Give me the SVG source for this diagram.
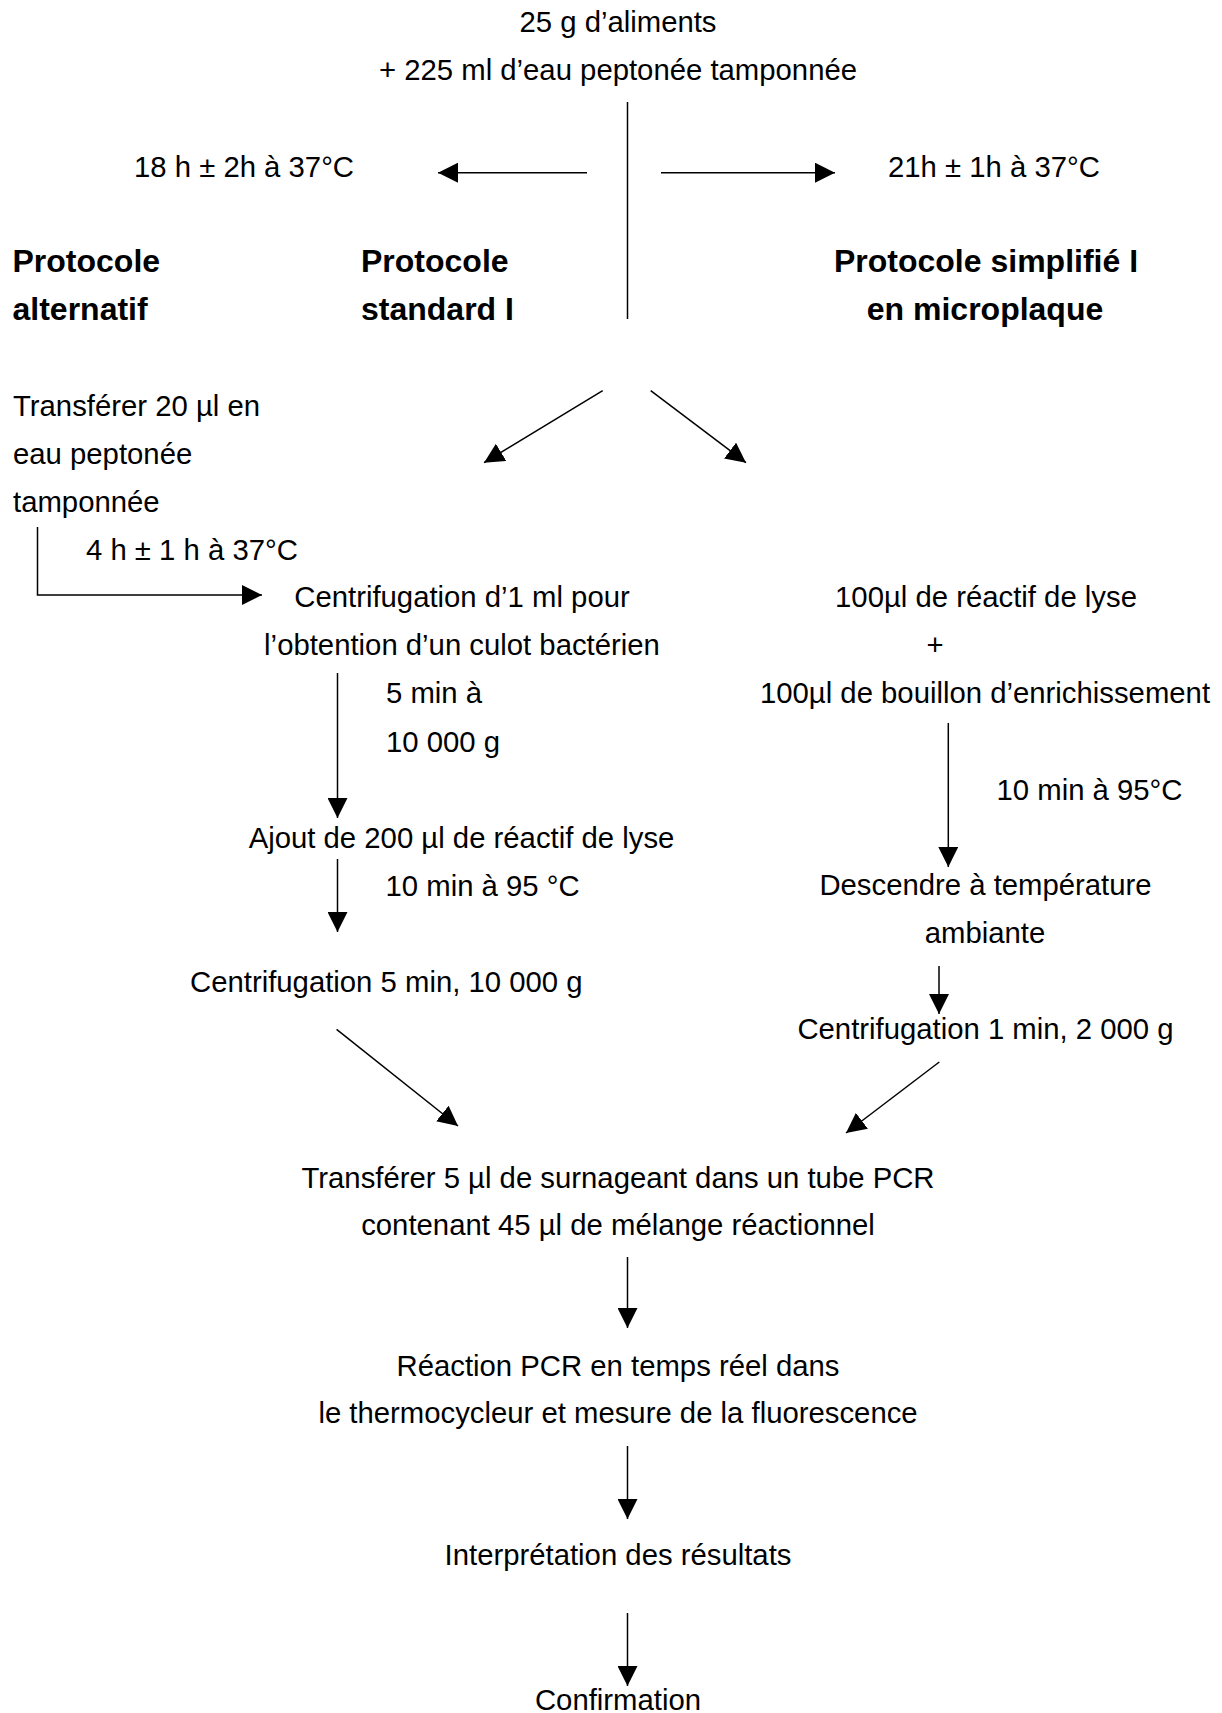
<svg xmlns="http://www.w3.org/2000/svg" width="1222" height="1713" viewBox="0 0 1222 1713">
<style>
text{font-family:"Liberation Sans",Arial,sans-serif;font-size:29.3px;fill:#000}
.b{font-weight:bold;font-size:32px}
.c{text-anchor:middle}
.ln{stroke:#000;stroke-width:1.5;fill:none}
.ar{marker-end:url(#ah)}
</style>
<defs>
<marker id="ah" markerUnits="userSpaceOnUse" viewBox="0 0 20 20" refX="20" refY="10" markerWidth="20" markerHeight="20" orient="auto">
<path d="M0,0 L20,10 L0,20 z" fill="#000"/>
</marker>
</defs>
<rect width="1222" height="1713" fill="#fff"/>
<g id="connectors">
<line class="ln" x1="627.5" y1="102" x2="627.5" y2="319"/>
<line class="ln ar" x1="587" y1="172.7" x2="438" y2="172.7"/>
<line class="ln ar" x1="661" y1="172.7" x2="835" y2="172.7"/>
<line class="ln ar" x1="602.7" y1="390.7" x2="484" y2="462.7"/>
<line class="ln ar" x1="650.7" y1="390.7" x2="746" y2="462.7"/>
<polyline class="ln ar" points="37.5,527 37.5,595 262,595"/>
<line class="ln ar" x1="337.5" y1="673" x2="337.5" y2="818"/>
<line class="ln ar" x1="337.5" y1="859" x2="337.5" y2="932"/>
<line class="ln ar" x1="948.3" y1="723" x2="948.3" y2="867"/>
<line class="ln ar" x1="939" y1="966" x2="939" y2="1014"/>
<line class="ln ar" x1="336.6" y1="1029.3" x2="458" y2="1126"/>
<line class="ln ar" x1="939.3" y1="1062" x2="846" y2="1133"/>
<line class="ln ar" x1="627.5" y1="1257" x2="627.5" y2="1328"/>
<line class="ln ar" x1="627.5" y1="1446" x2="627.5" y2="1519"/>
<line class="ln ar" x1="627.5" y1="1613" x2="627.5" y2="1686"/>
</g>
<g id="n-start"><text class="c" x="618" y="32">25 g d’aliments</text><text class="c" x="618" y="80">+ 225 ml d’eau peptonée tamponnée</text></g>
<g id="lbl-18h"><text x="134" y="176.7">18 h ± 2h à 37°C</text></g>
<g id="lbl-21h"><text x="888" y="176.7">21h ± 1h à 37°C</text></g>
<g id="h-alt"><text class="b" x="12.5" y="271.7">Protocole</text><text class="b" x="12.5" y="319.5">alternatif</text></g>
<g id="h-std"><text class="b" x="361" y="271.7">Protocole</text><text class="b" x="361" y="319.5">standard I</text></g>
<g id="h-simp"><text class="b c" x="986" y="271.7">Protocole simplifié I</text><text class="b c" x="985" y="319.5">en microplaque</text></g>
<g id="n-transfer20"><text x="13" y="416">Transférer 20 µl en</text><text x="13" y="464">eau peptonée</text><text x="13" y="512">tamponnée</text></g>
<g id="lbl-4h"><text x="86" y="560">4 h ± 1 h à 37°C</text></g>
<g id="n-centri1ml"><text class="c" x="462" y="607">Centrifugation d’1 ml pour</text><text class="c" x="462" y="655">l’obtention d’un culot bactérien</text></g>
<g id="n-lyse100"><text class="c" x="986" y="607">100µl de réactif de lyse</text><text class="c" x="935" y="655">+</text><text class="c" x="985" y="703">100µl de bouillon d’enrichissement</text></g>
<g id="lbl-5min"><text x="386" y="703.3">5 min à</text><text x="386" y="751.7">10 000 g</text></g>
<g id="n-ajout"><text class="c" x="461.5" y="848.3">Ajout de 200 µl de réactif de lyse</text></g>
<g id="lbl-10min-l"><text x="385.5" y="896">10 min à 95 °C</text></g>
<g id="n-centri5"><text x="190" y="991.7">Centrifugation 5 min, 10 000 g</text></g>
<g id="lbl-10min-r"><text x="996.5" y="800">10 min à 95°C</text></g>
<g id="n-descendre"><text class="c" x="985.5" y="895">Descendre à température</text><text class="c" x="985" y="943.3">ambiante</text></g>
<g id="n-centri1"><text class="c" x="985.5" y="1039.3">Centrifugation 1 min, 2 000 g</text></g>
<g id="n-transfer5"><text class="c" x="618" y="1187.5">Transférer 5 µl de surnageant dans un tube PCR</text><text class="c" x="618" y="1234.5">contenant 45 µl de mélange réactionnel</text></g>
<g id="n-pcr"><text class="c" x="618" y="1376">Réaction PCR en temps réel dans</text><text class="c" x="618" y="1423.3">le thermocycleur et mesure de la fluorescence</text></g>
<g id="n-interp"><text class="c" x="618" y="1565">Interprétation des résultats</text></g>
<g id="n-confirm"><text class="c" x="618" y="1710">Confirmation</text></g>
</svg>
